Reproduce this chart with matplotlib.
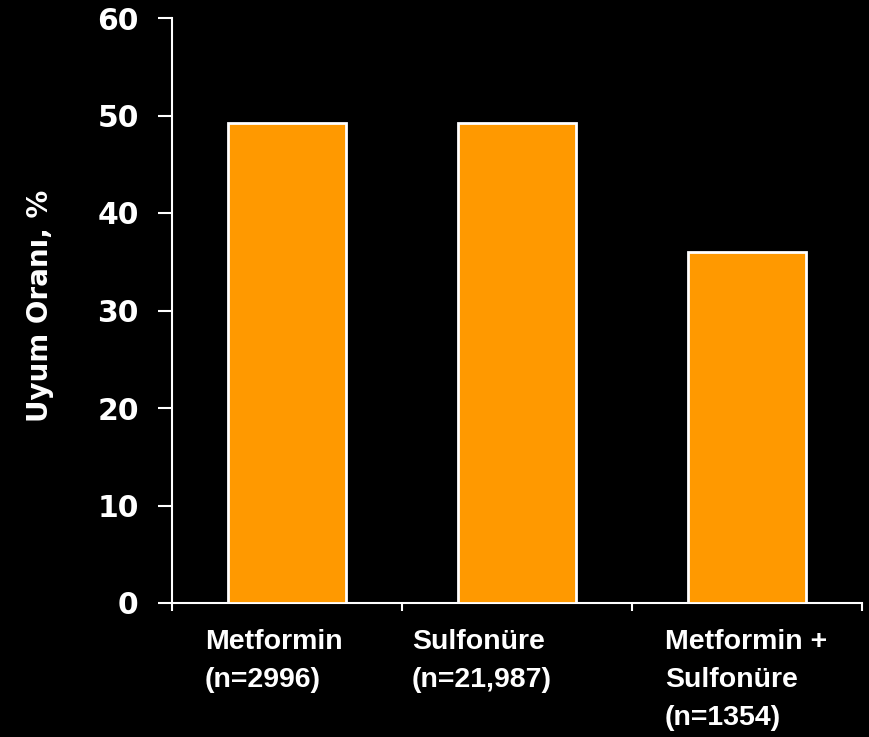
import matplotlib
matplotlib.use("Agg")
import matplotlib.pyplot as plt
from matplotlib.transforms import blended_transform_factory

categories = ["Metformin\n(n=2996)", "Sulfonüre\n(n=21,987)", "Metformin +\nSulfonüre\n(n=1354)"]
values = [49.2, 49.2, 36.0]
yticks = [0, 10, 20, 30, 40, 50, 60]
ylabel = "Uyum Oranı, %"

fig = plt.figure(figsize=(8.69, 7.37), dpi=100, facecolor="black")
ax = fig.add_axes([172/869, 1 - 603/737, (862 - 172)/869, (603 - 18)/737])
ax.set_facecolor("black")

xpos = [i + 0.5 for i in range(len(values))]
ax.bar(xpos, values, width=0.51, color="#FF9900", edgecolor="white", linewidth=2, zorder=3)

ax.set_xlim(0, 3)
ax.set_ylim(0, 60)
ax.set_xticks([0, 1, 2, 3])
ax.set_xticklabels([])
ax.set_yticks(yticks)
ax.set_yticklabels([str(t) for t in yticks], fontsize=21.5, fontweight="bold",
                   color="white", family="DejaVu Sans")
for s in ["top", "right"]:
    ax.spines[s].set_visible(False)
for s in ["left", "bottom"]:
    ax.spines[s].set_color("white")
    ax.spines[s].set_linewidth(1.5)
ax.tick_params(axis="y", colors="white", length=10, width=1.5, pad=14)
ax.tick_params(axis="x", colors="white", length=6, width=1.5)

label_x = [0.143, 1.043, 2.143]
trans = blended_transform_factory(ax.transData, ax.transAxes)
for x, lab in zip(label_x, categories):
    ax.text(x, -0.045, lab, transform=trans, ha="left", va="top",
            fontsize=20.5, fontweight="bold", color="white",
            family="Liberation Sans", linespacing=1.6)

fig.text(40/869, 1 - 306/737, ylabel, rotation=90, ha="center", va="center",
         fontsize=20, fontweight="bold", color="white", family="DejaVu Sans")

fig.savefig("out.png", dpi=100, facecolor="black")
